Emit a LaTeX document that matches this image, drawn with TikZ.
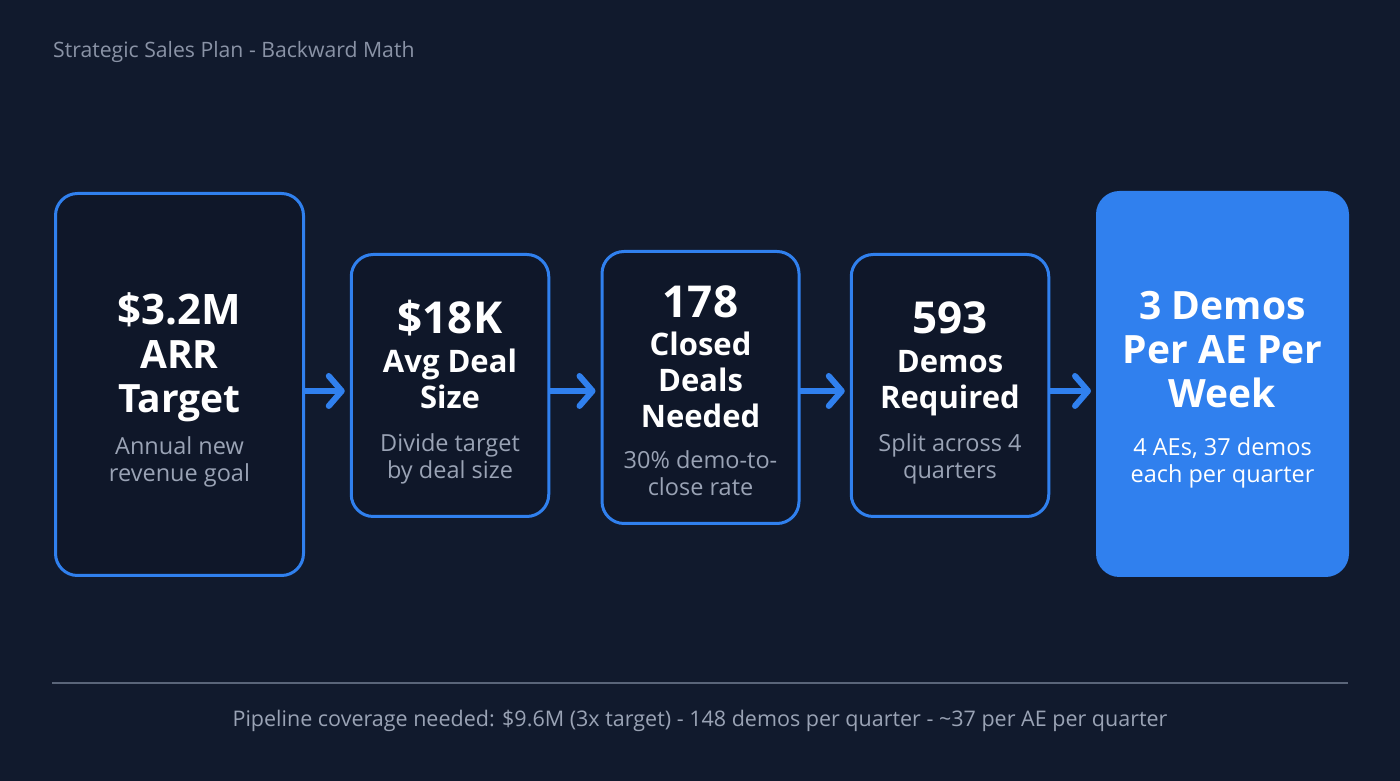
\documentclass[tikz,border=0pt]{standalone}
\usepackage{fontspec}
\setmainfont{Open Sans}
\usetikzlibrary{positioning}
\usetikzlibrary{arrows.meta}

\definecolor{bg}{HTML}{111A2D}
\definecolor{panel}{HTML}{0F1729}
\definecolor{accent}{HTML}{3080EE}
\definecolor{muted}{HTML}{9AA3B5}
\definecolor{dim}{HTML}{8A93A6}
\definecolor{rule}{HTML}{5A6579}

\begin{document}
\begin{tikzpicture}[x=1pt,y=1pt,
	stage/.style={draw=accent,line width=3pt,rounded corners=22pt,fill=panel,inner sep=0pt},
	big/.style={text=white,font=\fontsize{39}{44}\selectfont\bfseries,align=center},
	num/.style={text=white,font=\fontsize{44}{46}\selectfont\bfseries},
	head/.style={text=white,font=\fontsize{31}{36}\selectfont\bfseries,align=center},
	note/.style={text=muted,font=\fontsize{23.5}{27}\selectfont,align=center},
	flow/.style={accent,line width=6pt,-{Straight Barb[length=13pt,width=30pt,round]},
		shorten <=-2pt,shorten >=5pt}]
	\fill[bg] (0,0) rectangle (1400,781);
	\node[anchor=west,inner sep=0pt,text=dim,font=\fontsize{21.2}{25}\selectfont] (title) at (53,729)
		{Strategic Sales Plan - Backward Math};
	% stages
	\node[stage,minimum width=248pt,minimum height=382pt] (arr) at (179.5,396.5) {};
	\node[stage,minimum width=197.5pt,minimum height=262pt] (deal) at (450,395.5) {};
	\node[stage,minimum width=197pt,minimum height=272pt] (closed) at (700.5,393.5) {};
	\node[stage,minimum width=197.5pt,minimum height=262pt] (demos) at (950,395.5) {};
	\node[stage,fill=accent,minimum width=250pt,minimum height=383pt] (week) at (1222.5,397) {};
	% texts
	\node[big] (arr-t) at (179.5,424) {{\fontsize{42}{44}\selectfont\$3.2M}\\ARR\\Target};
	\node[note] (arr-s) at (179.5,319) {Annual new\\revenue goal};
	\node[num] (deal-n) at (450,463) {\$18K};
	\node[head] (deal-t) at (450,402.5) {Avg Deal\\Size};
	\node[note] (deal-s) at (450,322.5) {Divide target\\by deal size};
	\node[num] (closed-n) at (700.5,479) {178};
	\node[head] (closed-t) at (700.5,401) {Closed\\Deals\\Needed};
	\node[note] (closed-s) at (700.5,307.5) {30\% demo-to-\\close rate};
	\node[num] (demos-n) at (950,463) {593};
	\node[head] (demos-t) at (950,397.5) {Demos\\Required};
	\node[note] (demos-s) at (950,322.5) {Split across 4\\quarters};
	\node[big] (week-t) at (1222.5,431) {3 Demos\\Per AE Per\\Week};
	\node[note,text=white] (week-s) at (1222.5,318) {4 AEs, 37 demos\\each per quarter};
	% arrows
	\coordinate (lvl) at (0,390);
	\draw[flow] (arr.east |- lvl) -- (deal.west |- lvl);
	\draw[flow] (deal.east |- lvl) -- (closed.west |- lvl);
	\draw[flow] (closed.east |- lvl) -- (demos.west |- lvl);
	\draw[flow] (demos.east |- lvl) -- (week.west |- lvl);
	% footer
	\draw[rule,line width=2pt] (52,98) -- (1348,98);
	\node[text=muted,font=\fontsize{21.5}{25}\selectfont] (footer) at (700,60)
		{Pipeline coverage needed: \$9.6M (3x target) - 148 demos per quarter - \textasciitilde37 per AE per quarter};
\end{tikzpicture}
\end{document}
